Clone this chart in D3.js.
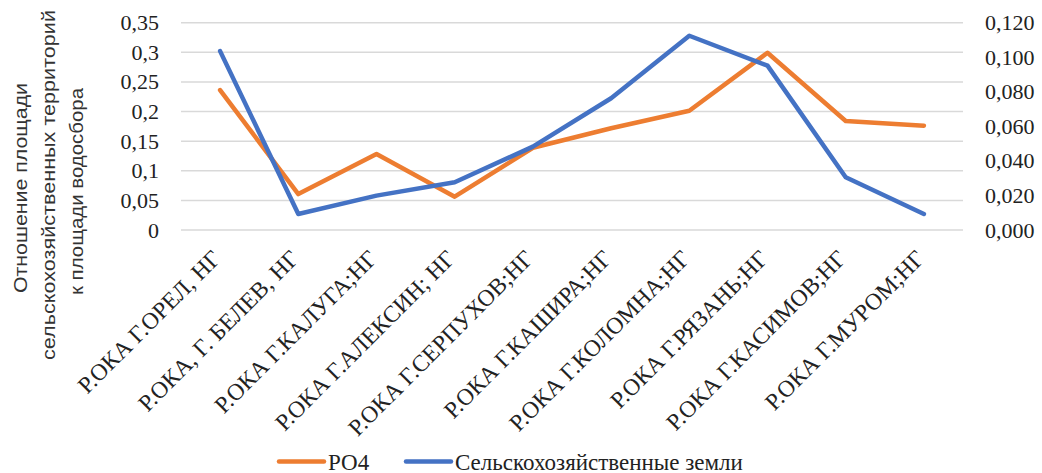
<!DOCTYPE html>
<html><head><meta charset="utf-8">
<script src="https://cdn.jsdelivr.net/npm/d3@7"></script>
<style>body{margin:0;background:#fff;}svg{display:block;}</style>
</head><body>
<script>
const categories = ["Р.ОКА Г.ОРЕЛ, НГ","Р.ОКА, Г. БЕЛЕВ, НГ","Р.ОКА Г.КАЛУГА;НГ","Р.ОКА Г.АЛЕКСИН; НГ","Р.ОКА Г.СЕРПУХОВ;НГ","Р.ОКА Г.КАШИРА;НГ","Р.ОКА Г.КОЛОМНА;НГ","Р.ОКА Г.РЯЗАНЬ;НГ","Р.ОКА Г.КАСИМОВ;НГ","Р.ОКА Г.МУРОМ;НГ"];
const po4 = [0.081, 0.0208, 0.044, 0.0193, 0.0476, 0.0589, 0.069, 0.1026, 0.0631, 0.0604];
const agri = [0.302, 0.027, 0.058, 0.0806, 0.1407, 0.2225, 0.328, 0.2775, 0.089, 0.027];
const leftTicks = [0, 0.05, 0.1, 0.15, 0.2, 0.25, 0.3, 0.35];
const rightTicks = [0, 0.02, 0.04, 0.06, 0.08, 0.1, 0.12];
const seriesNames = ["РО4", "Сельскохозяйственные земли"];
const yTitle = ["Отношение площади", "сельскохозяйственных территорий", "к площади водосбора"];

const W = 1042, H = 473;
const m = {left: 181, right: 1042 - 963, top: 22.7, bottom: 473 - 230};
const svg = d3.select("body").append("svg").attr("width", W).attr("height", H);
const serif = "'Liberation Serif', 'Times New Roman', serif";

const x = d3.scaleBand().domain(categories).range([m.left, W - m.right]);
const yL = d3.scaleLinear().domain([0, 0.35]).range([H - m.bottom, m.top]);
const yR = d3.scaleLinear().domain([0, 0.12]).range([H - m.bottom, m.top]);
const fmtL = d => String(+d.toFixed(2)).replace(".", ",");
const fmtR = d => d.toFixed(3).replace(".", ",");

// gridlines
svg.append("g").selectAll("line").data(leftTicks).join("line")
  .attr("x1", m.left).attr("x2", W - m.right)
  .attr("y1", d => yL(d)).attr("y2", d => yL(d))
  .attr("stroke", "#d9d9d9").attr("stroke-width", 1.5);

// left axis
const axL = svg.append("g").attr("transform", `translate(${m.left - 22},0)`)
  .call(d3.axisLeft(yL).tickValues(leftTicks).tickFormat(fmtL).tickSize(0).tickPadding(0));
axL.select(".domain").remove();
axL.selectAll("text").attr("font-family", serif).attr("font-size", 22).attr("fill", "#222");

// right axis
const axR = svg.append("g").attr("transform", `translate(${W - m.right + 22},0)`)
  .call(d3.axisRight(yR).tickValues(rightTicks).tickFormat(fmtR).tickSize(0).tickPadding(0));
axR.select(".domain").remove();
axR.selectAll("text").attr("font-family", serif).attr("font-size", 22).attr("fill", "#222");

// category labels
svg.append("g").selectAll("text").data(categories).join("text")
  .attr("transform", d => `translate(${x(d) + x.bandwidth()/2 + 2},260) rotate(-45)`)
  .attr("text-anchor", "end")
  .attr("font-family", serif).attr("font-size", 23.5).attr("fill", "#222")
  .text(d => d);

// lines
const cx = d => x(d) + x.bandwidth()/2;
const lineL = d3.line().x((d, i) => cx(categories[i])).y(d => yL(d));
const lineR = d3.line().x((d, i) => cx(categories[i])).y(d => yR(d));
svg.append("path").datum(po4).attr("d", lineR).attr("fill", "none")
  .attr("stroke", "#ED7D31").attr("stroke-width", 4.5).attr("stroke-linejoin", "round").attr("stroke-linecap", "round");
svg.append("path").datum(agri).attr("d", lineL).attr("fill", "none")
  .attr("stroke", "#4472C4").attr("stroke-width", 4.5).attr("stroke-linejoin", "round").attr("stroke-linecap", "round");

// y title (three lines, start-anchored at bottom, stretched along text direction)
const titleLayout = [{start: 293, len: 210, base: 27}, {start: 360, len: 350, base: 55}, {start: 295, len: 207, base: 83}];
yTitle.forEach((t, i) => {
  svg.append("text")
    .attr("transform", `translate(${titleLayout[i].base},${titleLayout[i].start}) rotate(-90)`)
    .attr("text-anchor", "start")
    .attr("textLength", titleLayout[i].len).attr("lengthAdjust", "spacingAndGlyphs")
    .attr("font-family", "'Liberation Sans', Arial, sans-serif")
    .attr("font-size", 19).attr("fill", "#333").text(t);
});

// legend
const legend = [{name: seriesNames[0], color: "#ED7D31", x: 279}, {name: seriesNames[1], color: "#4472C4", x: 406}];
const lg = svg.append("g");
legend.forEach(l => {
  lg.append("line").attr("x1", l.x).attr("x2", l.x + 45).attr("y1", 461.5).attr("y2", 461.5)
    .attr("stroke", l.color).attr("stroke-width", 4.5).attr("stroke-linecap", "round");
  lg.append("text").attr("x", l.x + 49).attr("y", 469.5)
    .attr("font-family", serif).attr("font-size", 23).attr("fill", "#222").text(l.name);
});
</script>
</body></html>
